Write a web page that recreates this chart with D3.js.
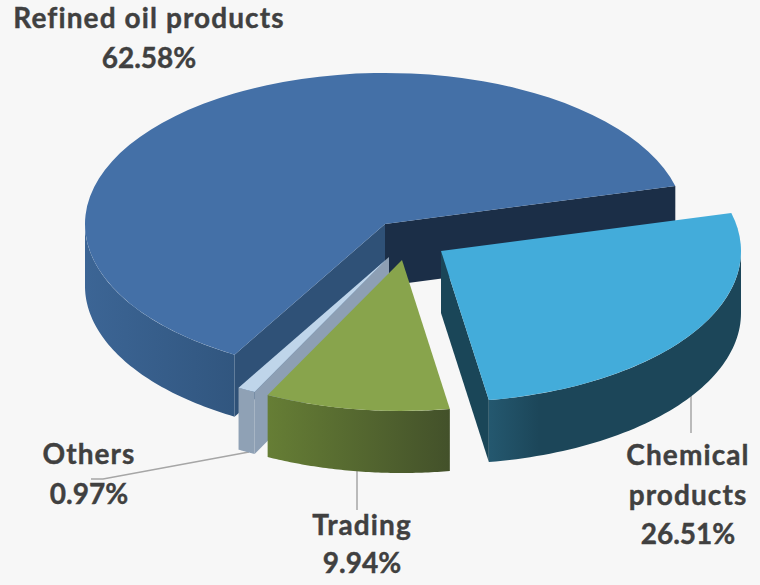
<!DOCTYPE html>
<html>
<head>
<meta charset="utf-8">
<script src="https://cdn.jsdelivr.net/npm/d3@7"></script>
<style>
html, body { margin: 0; padding: 0; background: #f7f7f7; }
svg { display: block; }
text { font-family: Lato, "Open Sans", sans-serif; font-weight: 700; font-size: 28px; letter-spacing: 1.1px; fill: #404040; stroke: #404040; stroke-width: 0.4px; text-anchor: middle; }
text.pct { letter-spacing: 0; }
</style>
</head>
<body>
<div class="svg-container"></div>
<script>
// chart data
var categories = ["Refined oil products", "Chemical products", "Trading", "Others"];
var shares = [62.58, 26.51, 9.94, 0.97];

var width = 760;
var height = 585;
var cx = 385, cy = 224;      // centre of the top face of the big slice
var rx = 300, ry = 151;
var depth = 62;
var startDeg = 210.1;        // first slice starts here, clockwise from 12 o'clock

// one entry per slice, same order as categories
var style = [
    { dx: 0,  dy: 0,  top: "#4470a7", wall: ["#3c6595", "#31567f"], cutStart: "#2f5177", cutEnd: "#1b2e47" },
    { dx: 56, dy: 27, top: "#43acda", wall: ["#24586f", "#1c4659", "#1c4659", "#1c4659", "#1c4659", "#1c4659"], cutStart: "#1a4658", cutEnd: "#1a4658" },
    { dx: 17, dy: 36, top: "#88a44c", wall: ["#667e35", "#43512a"], cutStart: "#43512a", cutEnd: "#43512a" },
    { dx: 4,  dy: 33, top: "#bfd5ea", wall: ["#8fa1b5", "#8fa1b5"], cutStart: "#8d9fb4", cutEnd: "#8d9fb4" }
];
var drawOrder = [0, 1, 3, 2];

var labels = [
    { x: 149, y: 28, lines: ["Refined oil products"], dy: 40 },
    { x: 688, y: 465, lines: ["Chemical", "products"], dy: 39.5 },
    { x: 362, y: 535, lines: ["Trading"], dy: 38 },
    { x: 89, y: 464, lines: ["Others"], dy: 40 }
];
var leaders = [
    [[91, 479], [103, 479], [249, 452]],
    [[357, 470], [357, 510]],
    [[691, 395], [691, 433]]
];

var svg = d3.select(".svg-container").append("svg")
    .attr("width", width)
    .attr("height", height);
var defs = svg.append("defs");

svg.append("rect").attr("width", width).attr("height", height).attr("fill", "#f7f7f7");

var startAngle = startDeg * Math.PI / 180;
var pie = d3.pie().sort(null).startAngle(startAngle).endAngle(startAngle + 2 * Math.PI);
var arcs = pie(shares);

// unit circle -> flattened ellipse
var sx = d3.scaleLinear().domain([-1, 1]).range([-rx, rx]);
var sy = d3.scaleLinear().domain([-1, 1]).range([-ry, ry]);
var px = function(a) { return sx(Math.sin(a)); };
var py = function(a) { return sy(-Math.cos(a)); };

var poly = d3.line().curve(d3.curveLinearClosed);
var topArc = d3.arc().innerRadius(0).outerRadius(rx);

// leader lines sit under the pie
svg.selectAll(".leader").data(leaders).enter().append("path")
    .attr("class", "leader")
    .attr("d", d3.line())
    .attr("fill", "none")
    .attr("stroke", "#a6a6a6")
    .attr("stroke-width", 1.5);

function cutFace(g, a, color) {
    g.append("path")
        .attr("d", poly([[0, 0], [px(a), py(a)], [px(a), py(a) + depth], [0, depth]]))
        .attr("fill", color);
}

drawOrder.forEach(function(i) {
    var d = arcs[i], s = style[i];
    var g = svg.append("g").attr("transform", "translate(" + (cx + s.dx) + "," + (cy + s.dy) + ")");

    // angles past a full turn, bring them back for the rim test
    var turn = d.startAngle >= 2 * Math.PI ? 2 * Math.PI : 0;
    var a0 = d.startAngle - turn, a1 = d.endAngle - turn;

    // cut faces, only the ones turned towards the viewer
    if (Math.sin(a0) < 0) cutFace(g, a0, s.cutStart);
    if (Math.sin(a1) > 0) cutFace(g, a1, s.cutEnd);

    // outer wall: the part of the rim on the front half
    var from = Math.max(a0, Math.PI / 2), to = Math.min(a1, 3 * Math.PI / 2);
    var rim = d3.range(0, 61).map(function(k) { return from + (to - from) * k / 60; });
    var pts = rim.map(function(a) { return [px(a), py(a)]; })
        .concat(rim.slice().reverse().map(function(a) { return [px(a), py(a) + depth]; }));

    var xs = pts.map(function(p) { return p[0]; });
    var grad = defs.append("linearGradient")
        .attr("id", "wall" + i)
        .attr("gradientUnits", "userSpaceOnUse")
        .attr("x1", d3.min(xs)).attr("x2", d3.max(xs)).attr("y1", 0).attr("y2", 0);
    s.wall.forEach(function(c, k) {
        grad.append("stop").attr("offset", k / (s.wall.length - 1)).attr("stop-color", c);
    });
    g.append("path").attr("d", poly(pts)).attr("fill", "url(#wall" + i + ")");

    // top face
    g.append("path")
        .attr("transform", "scale(1," + (ry / rx) + ")")
        .attr("d", topArc(d))
        .attr("fill", s.top);
});

// labels
var fmt = function(v) { return d3.format(".2f")(v) + "%"; };
labels.forEach(function(l, i) {
    l.lines.forEach(function(t, k) {
        svg.append("text").attr("x", l.x).attr("y", l.y + k * l.dy).text(t);
    });
    svg.append("text").attr("class", "pct")
        .attr("x", l.x)
        .attr("y", l.y + l.lines.length * l.dy)
        .text(fmt(shares[i]));
});
</script>
</body>
</html>
